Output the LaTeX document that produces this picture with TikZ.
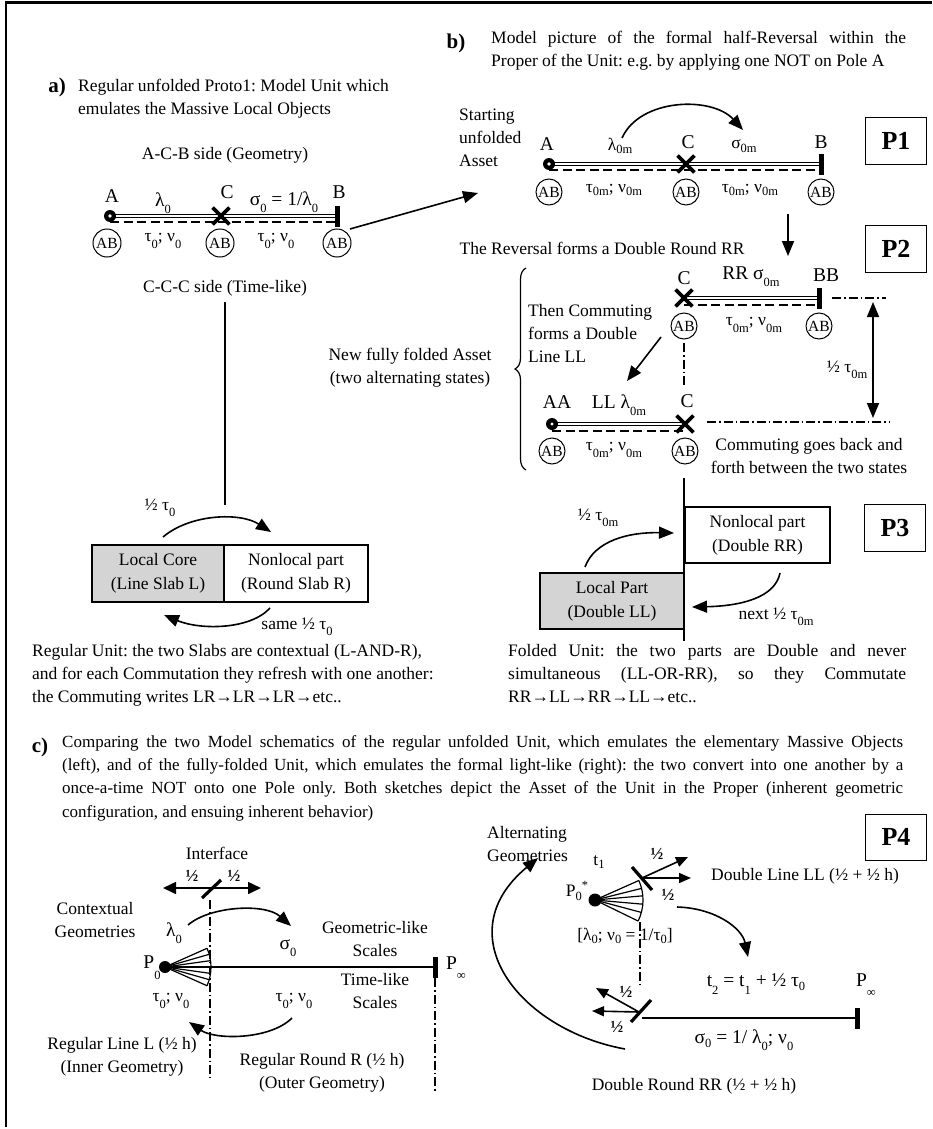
\documentclass[tikz,border=0pt]{standalone}
\usepackage{fontspec}
\setmainfont{Liberation Serif}
\usetikzlibrary{arrows.meta,shapes.misc,decorations.pathreplacing}
\frenchspacing
\newcommand\fsz[1]{\fontsize{#1}{#1}\selectfont}
\newcommand\sbl[1]{\raisebox{-0.8ex}{\fontsize{12.5}{12.5}\selectfont #1}}
\newcommand\sbm[1]{\raisebox{-0.45ex}{\fontsize{12.5}{12.5}\selectfont #1}}
\newcommand\sbx[1]{\raisebox{-1.2ex}{\fontsize{12.5}{12.5}\selectfont #1}}
\newcommand\spx[1]{\raisebox{0.9ex}{\fontsize{12.5}{12.5}\selectfont #1}}
\begin{document}
\frenchspacing
\begin{tikzpicture}[x=1pt,y=-1pt,
  txt/.style={inner sep=0pt, font=\fsz{17.5}},
  big/.style={inner sep=0pt, font=\fsz{19.5}},
  hlf/.style={inner sep=0pt, font=\bfseries\fsz{17}},
  para/.style={inner sep=0pt, font=\fontsize{17.5}{23}\selectfont},
  abc/.style={circle, draw, line width=1pt, inner sep=0pt, minimum size=28pt, font=\fsz{15.5}},
  dotn/.style={circle, fill=black, inner sep=0pt, minimum size=12pt},
  crs/.style={cross out, draw, line width=3.8pt, inner sep=0pt, minimum size=13pt},
  barn/.style={fill=black, inner sep=0pt, minimum width=5pt, minimum height=21pt},
  dbl/.style={double, double distance=2pt, line width=0.8pt},
  dsh/.style={line width=1.2pt, dash pattern=on 9pt off 4.5pt},
  arr/.style={line width=1.6pt, -{Triangle[length=15pt,width=12pt]}},
  sarr/.style={line width=1.6pt, -{Triangle[length=12pt,width=10pt]}},
  ddl/.style={line width=1.2pt, dash pattern=on 9pt off 3pt on 1.5pt off 3pt},
  pbox/.style={draw, line width=1pt, minimum width=61pt, minimum height=47pt, inner sep=0pt, font=\bfseries\fsz{26}},
  slab/.style={draw, line width=1.5pt, inner sep=0pt, minimum height=57pt, align=center, font=\fontsize{17.5}{24}\selectfont},
  slsh/.style={line width=3.2pt},
  fanl/.style={line width=1.2pt}
]
\useasboundingbox (0,0) rectangle (932,1129);
\fill[white] (0,0) rectangle (932,1129);
\draw[line width=2.6pt] (6,1127) -- (6,2.5) -- (932,2.5);

% ================= a) =================
\node[font=\bfseries\fsz{21}, inner sep=0pt] (alab) at (57,87) {a)};
\node[txt, anchor=west] (atx1) at (78,87) {Regular unfolded Proto1: Model Unit which};
\node[txt, anchor=west] (atx2) at (78,110) {emulates the Massive Local Objects};
\node[txt] (acb) at (225,155) {A-C-B side (Geometry)};
\coordinate (aA) at (110,216); \coordinate (aC) at (221,216); \coordinate (aB) at (337,216);
\draw[dbl] (aA) -- (aB);
\draw[dsh] ([yshift=-6pt]aA) -- ([yshift=-6pt]aB);
\node[dotn] (aAd) at (aA) {}; \fill[white] (aAd.center) circle[radius=1.9pt];
\node[crs] (aCx) at (aC) {};
\node[barn] (aBb) at (aB) {};
\node[big] (aAl) at (112,196) {A};
\node[big] (alam) at (163,203) {λ\sbl{0}};
\node[big] (aCl) at (227,192) {C};
\node[big] (asig) at (284,202) {σ\sbl{0} = 1/λ\sbl{0}};
\node[big] (aBl) at (339,192) {B};
\node[abc] (aab1) at (107,243) {AB};
\node[abc] (aab2) at (220,243) {AB};
\node[abc] (aab3) at (337,243) {AB};
\node[txt] (atau1) at (163,241) {τ\sbl{0}; ν\sbl{0}};
\node[txt] (atau2) at (276,241) {τ\sbl{0}; ν\sbl{0}};
\node[txt] (accc) at (225,288) {C-C-C side (Time-like)};
\coordinate (avt) at (225,302); \coordinate (avb) at (225,505);
\draw[line width=1.4pt] (avt) -- (avb);
\node[slab, fill=black!17, minimum width=132pt] (alc) at (158,573.5) {Local Core\\(Line Slab L)};
\node[slab, minimum width=144pt] (anl) at (296,573.5) {Nonlocal part\\(Round Slab R)};
\coordinate (au1) at (163,537); \coordinate (au2) at (271,532);
\draw[arr] (au1) .. controls (190,514) and (240,512) .. (au2);
\node[txt] (ahalf) at (160,508) {½ τ\sbl{0}};
\coordinate (ad1) at (270,608); \coordinate (ad2) at (164,615);
\draw[arr] (ad1) .. controls (250,630) and (200,630) .. (ad2);
\node[txt] (asame) at (297,627) {same ½ τ\sbl{0}};
\node[para, anchor=north west, align=left] (capa) at (32,644) {Regular Unit: the two Slabs are contextual (L-AND-R),\\and for each Commutation they refresh with one another:\\the Commuting writes LR→LR→LR→etc..};

% arrow a -> b
\coordinate (ab1) at (350,229); \coordinate (ab2) at (478,193);
\draw[arr] (ab1) -- (ab2);

% ================= b) P1 =================
\node[font=\bfseries\fsz{21}, inner sep=0pt] (blab) at (456,43) {b)};
\node[para, anchor=north west, text width=415pt, align=justify] (btx) at (491,31) {Model picture of the formal half-Reversal within the\linebreak Proper of the Unit: e.g. by applying one NOT on Pole A};
\node[para, anchor=north west, align=left] (bstart) at (459,109) {Starting\\unfolded\\Asset};
\coordinate (bA) at (549,164); \coordinate (bC) at (686,164); \coordinate (bB) at (821,164);
\draw[dbl] (bA) -- (bB);
\draw[dsh] ([yshift=-6pt]bA) -- ([yshift=-6pt]bB);
\node[dotn] (bAd) at (bA) {}; \fill[white] (bAd.center) circle[radius=1.9pt];
\node[crs] (bCx) at (bC) {};
\node[barn] (bBb) at (bB) {};
\node[big] (bAl) at (547,144) {A};
\node[txt] (blam) at (620,146) {λ\sbm{0m}};
\node[big] (bCl) at (688,142) {C};
\node[txt] (bsig) at (744,146) {σ\sbm{0m}};
\node[big] (bBl) at (821,142) {B};
\node[abc, minimum size=26pt] (bab1) at (549,192) {AB};
\node[abc, minimum size=26pt] (bab2) at (686,192) {AB};
\node[abc, minimum size=26pt] (bab3) at (821,192) {AB};
\node[txt] (btau1) at (614,190) {τ\sbm{0m}; ν\sbm{0m}};
\node[txt] (btau2) at (750,190) {τ\sbm{0m}; ν\sbm{0m}};
\coordinate (bu1) at (622,138); \coordinate (bu2) at (743,130);
\draw[arr] (bu1) .. controls (640,98) and (712,96) .. (bu2);
\node[pbox] (p1) at (896,141) {P1};
\coordinate (bd1) at (788,214); \coordinate (bd2) at (788,256);
\draw[arr] (bd1) -- (bd2);

% ================= P2 =================
\node[txt] (rev) at (602,248) {The Reversal forms a Double Round RR};
\node[pbox] (p2) at (896,249) {P2};
\coordinate (cC) at (684,298); \coordinate (cBB) at (819,298);
\draw[dbl] (cC) -- (cBB);
\draw[dsh] ([yshift=-7pt]cC) -- ([yshift=-7pt]cBB);
\node[crs] (cCx) at (cC) {};
\node[barn] (cBBb) at (cBB) {};
\node[big] (cCl) at (684,278) {C};
\node[big] (crr) at (751,277) {RR σ\sbl{0m}};
\node[big] (cBBl) at (826,275) {BB};
\node[abc, minimum size=26pt] (cab1) at (684,326) {AB};
\node[abc, minimum size=26pt] (cab2) at (819,326) {AB};
\node[txt] (ctau) at (754,325) {τ\sbl{0m}; ν\sbl{0m}};
\coordinate (cd1) at (832,298); \coordinate (cd2) at (886,298);
\draw[ddl] (cd1) -- (cd2);
\coordinate (dA) at (552,424); \coordinate (dC) at (685,424);
\coordinate (ce1) at (707,422); \coordinate (ce2) at (890,422);
\draw[ddl] (ce1) -- (ce2);
\coordinate (cv1) at (873,302); \coordinate (cv2) at (873,418);
\draw[line width=1.6pt, {Triangle[length=15pt,width=12pt]}-{Triangle[length=15pt,width=12pt]}] (cv1) -- (cv2);
\node[txt] (chalf) at (847,370) {½ τ\sbl{0m}};
\coordinate (cm1) at (684,343); \coordinate (cm2) at (684,386);
\draw[ddl] (cm1) -- (cm2);
\draw[dbl] (dA) -- (dC);
\draw[dsh] ([yshift=-7pt]dA) -- ([yshift=-7pt]dC);
\node[dotn] (dAd) at (dA) {}; \fill[white] (dAd.center) circle[radius=1.6pt];
\node[crs] (dCx) at (dC) {};
\node[big] (dAl) at (557,402) {AA};
\node[big] (dll) at (619,405) {LL λ\sbl{0m}};
\node[big] (dCl) at (687,401) {C};
\node[abc, minimum size=26pt] (dab1) at (552,451) {AB};
\node[abc, minimum size=26pt] (dab2) at (685,451) {AB};
\node[txt] (dtau) at (614,450) {τ\sbl{0m}; ν\sbl{0m}};
\node[para, align=center] (dcomm) at (809,456) {Commuting goes back and\\forth between the two states};
\node[para, anchor=north west, align=left] (then) at (528,304) {Then Commuting\\forms a Double\\Line LL};
\coordinate (ta1) at (661,337); \coordinate (ta2) at (627,381);
\draw[arr] (ta1) -- (ta2);
\coordinate (br1) at (526,470); \coordinate (br2) at (526,268);
\draw[line width=1.2pt, decorate, decoration={brace, amplitude=11pt}] (br1) -- (br2);
\node[para, align=center] (newf) at (410,368) {New fully folded Asset\\(two alternating states)};

% ================= P3 =================
\coordinate (pv1) at (684,478); \coordinate (pv2) at (684,641);
\draw[line width=1.5pt] (pv1) -- (pv2);
\node[slab, minimum width=145pt, minimum height=56pt] (pnl) at (757.5,535) {Nonlocal part\\(Double RR)};
\node[slab, fill=black!17, minimum width=144pt, minimum height=56pt] (plp) at (612,601) {Local Part\\(Double LL)};
\node[pbox] (p3) at (895,528) {P3};
\coordinate (pu1) at (585,567); \coordinate (pu2) at (674,533);
\draw[arr] (pu1) .. controls (595,540) and (630,532) .. (pu2);
\node[txt] (phalf) at (598,518) {½ τ\sbl{0m}};
\coordinate (pd1) at (780,573); \coordinate (pd2) at (692,607);
\draw[arr] (pd1) .. controls (775,598) and (740,606) .. (pd2);
\node[txt] (pnext) at (776,617) {next ½ τ\sbl{0m}};
\node[para, anchor=north west, text width=398pt, align=justify] (capb) at (508,644) {Folded Unit: the two parts are Double and never\linebreak simultaneous (LL-OR-RR), so they Commutate\linebreak RR→LL→RR→LL→etc..};

% ================= c) =================
\node[font=\bfseries\fsz{21}, inner sep=0pt] (clab) at (40,747) {c)};
\node[anchor=north west, inner sep=0pt, text width=841pt, align=justify, font=\fontsize{17}{23.3}\selectfont] (ctx) at (62,735) {Comparing the two Model schematics of the regular unfolded Unit, which emulates the elementary Massive Objects\linebreak (left), and of the fully-folded Unit, which emulates the formal light-like (right): the two convert into one another by a\linebreak once-a-time NOT onto one Pole only. Both sketches depict the Asset of the Unit in the Proper (inherent geometric\linebreak configuration, and ensuing inherent behavior)};

% left sketch
\node[txt] (iface) at (217,853) {Interface};
\coordinate (if1) at (163,888); \coordinate (if2) at (261,888);
\draw[line width=1.6pt, {Triangle[length=13pt,width=12pt]}-{Triangle[length=13pt,width=12pt]}] (if1) -- (if2);
\node[hlf] (ih1) at (192,876) {½};
\node[hlf] (ih2) at (234,876) {½};
\coordinate (is1) at (202,898); \coordinate (is2) at (221,880);
\draw[slsh] (is1) -- (is2);
\coordinate (il1) at (210,900); \coordinate (il2) at (210,1078);
\draw[ddl] (il1) -- (il2);
\node[para, align=center] (ctxg) at (95,920) {Contextual\\Geometries};
\node[big] (clam) at (174,933) {λ\sbl{0}};
\coordinate (P0) at (165,967);
\foreach \a in {24,16,8,0,-8,-16,-24} \draw[fanl] (P0) -- ++(\a:46pt);
\draw[fanl] (P0) ++(24:46pt) arc[start angle=24, end angle=-24, radius=46pt];
\node[circle, fill=black, inner sep=0pt, minimum size=12pt] (P0d) at (P0) {};
\node[big] (P0l) at (152,968) {P\sbx{0}};
\coordinate (Pinf) at (435,967);
\draw[line width=1.4pt] (211,967) -- (Pinf);
\node[barn] (Pinfb) at (Pinf) {};
\node[big] (Pinfl) at (456,968) {P\sbx{∞}};
\coordinate (ct1) at (188,925); \coordinate (ct2) at (291,926);
\draw[arr] (ct1) .. controls (210,906) and (265,903) .. (ct2);
\node[big] (csig) at (288,948) {σ\sbl{0}};
\node[para, align=center] (cgeo) at (375,939) {Geometric-like\\Scales};
\node[para, align=center] (ctime) at (375,991) {Time-like\\Scales};
\node[txt] (ctau1) at (171,1001) {τ\sbl{0}; ν\sbl{0}};
\node[txt] (ctau2) at (294,1001) {τ\sbl{0}; ν\sbl{0}};
\coordinate (cb1) at (292,1018); \coordinate (cb2) at (189,1022);
\draw[arr] (cb1) .. controls (270,1040) and (215,1040) .. (cb2);
\coordinate (pl1) at (435,978); \coordinate (pl2) at (435,1093);
\draw[ddl] (pl1) -- (pl2);
\node[para, align=center] (crl) at (122,1057) {Regular Line L (½ h)\\(Inner Geometry)};
\node[para, align=center] (crr2) at (322,1073) {Regular Round R (½ h)\\(Outer Geometry)};

% right sketch P4
\node[pbox, minimum height=46pt] (p4) at (896,837) {P4};
\node[para, anchor=north west, align=left] (alt) at (487,826) {Alternating\\Geometries};
\node[txt] (t1) at (599,862) {t\sbm{1}};
\coordinate (Q0) at (595,900);
\foreach \a in {24,14,5,-5,-15,-26} \draw[fanl] (Q0) -- ++(\a:48pt);
\draw[fanl] (Q0) ++(24:48pt) arc[start angle=24, end angle=-26, radius=48pt];
\node[circle, fill=black, inner sep=0pt, minimum size=13pt] (Q0d) at (Q0) {};
\node[txt] (Q0l) at (577,891) {P\sbm{0}\spx{*}};
\coordinate (us1) at (632,867); \coordinate (us2) at (652,890); \coordinate (uc) at (642,878);
\draw[slsh] (us1) -- (us2);
\coordinate (ua1) at (688,857); \coordinate (ua2) at (691,878);
\draw[sarr] (uc) -- (ua1);
\draw[sarr] (uc) -- (ua2);
\node[hlf] (uh1) at (657,854) {½};
\node[hlf] (uh2) at (668,895) {½};
\node[txt] (dll2) at (805,876) {Double Line LL (½ + ½ h)};
\node[txt] (lnu) at (625,936) {[λ\sbm{0}; ν\sbm{0} = 1/τ\sbm{0}]};
\coordinate (qv1) at (640,922); \coordinate (qv2) at (640,988);
\draw[ddl] (qv1) -- (qv2);
\coordinate (qa1) at (677,907); \coordinate (qa2) at (748,957);
\draw[arr] (qa1) .. controls (715,908) and (742,928) .. (qa2);
\node[big] (t2) at (756,984) {t\sbl{2} = t\sbl{1} + ½ τ\sbm{0}};
\node[big] (Qinfl) at (866,985) {P\sbx{∞}};
\coordinate (ls1) at (631,1022); \coordinate (ls2) at (651,1000); \coordinate (lc) at (639,1012);
\coordinate (Qinf) at (857,1018);
\draw[line width=1.4pt] (642,1018) -- (Qinf);
\node[barn] (Qinfb) at (Qinf) {};
\draw[slsh] (ls1) -- (ls2);
\coordinate (la1) at (596,988); \coordinate (la2) at (592,1011);
\draw[sarr] (lc) -- (la1);
\draw[sarr] (lc) -- (la2);
\node[hlf] (lh1) at (626,992) {½};
\node[hlf] (lh2) at (617,1027) {½};
\node[big] (lsig) at (744,1040) {σ\sbm{0} = 1/ λ\sbl{0}; ν\sbl{0}};
\coordinate (ga1) at (625,1049); \coordinate (ga2) at (538,858);
\draw[arr] (ga1) .. controls (520,1030) and (445,935) .. (ga2);
\node[txt] (drr) at (694,1086) {Double Round RR (½ + ½ h)};
\end{tikzpicture}
\end{document}
